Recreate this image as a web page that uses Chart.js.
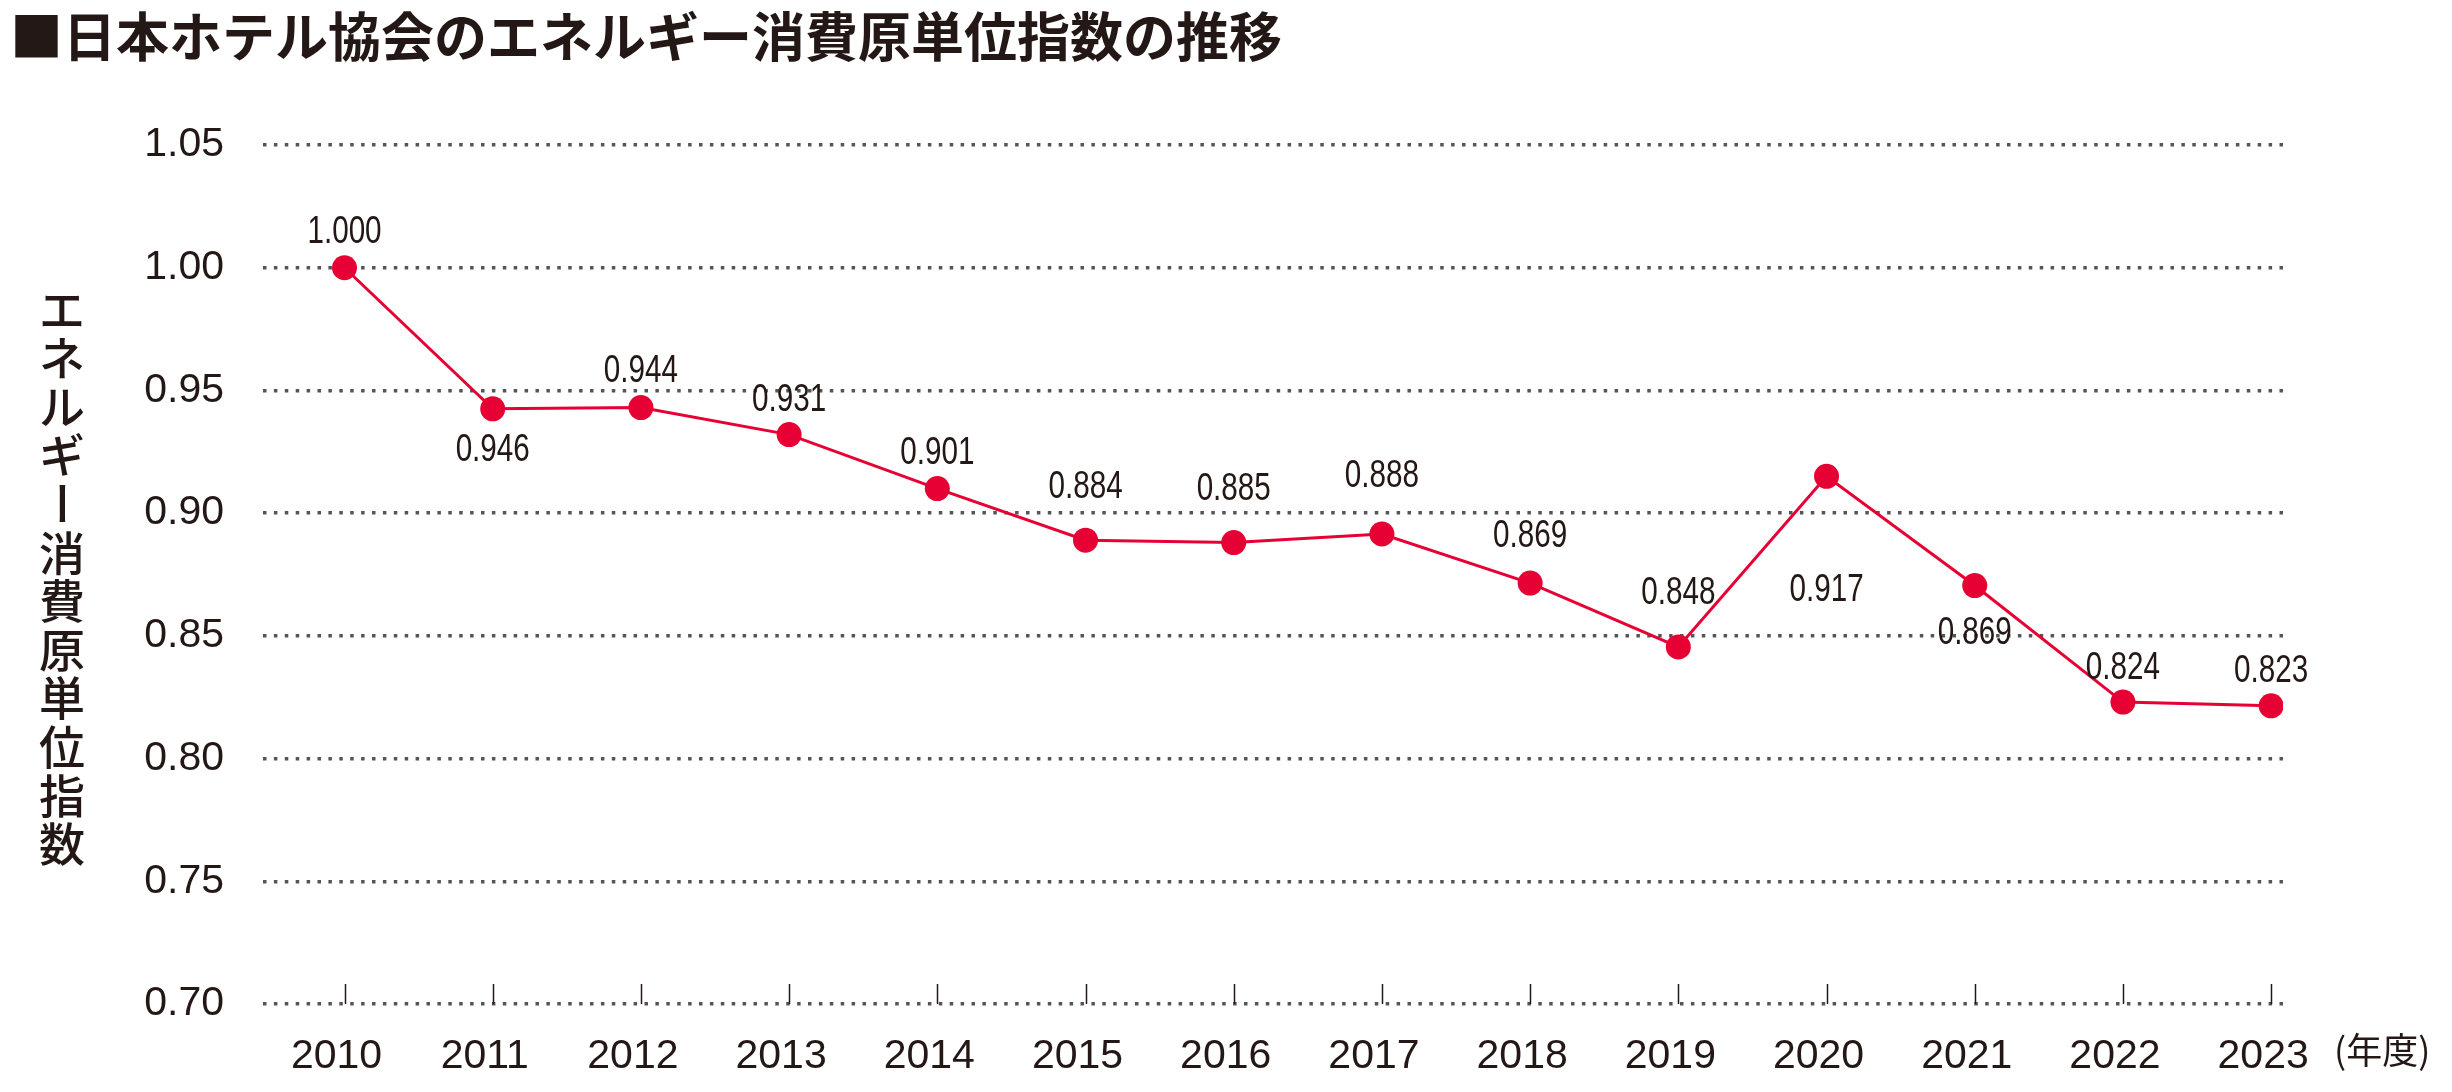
<!DOCTYPE html>
<html lang="ja">
<head>
<meta charset="utf-8">
<title>日本ホテル協会のエネルギー消費原単位指数の推移</title>
<script src="https://cdn.jsdelivr.net/npm/chart.js@4/dist/chart.umd.min.js"></script>
<style>
  html, body { margin: 0; padding: 0; background: #fff; }
  #wrap { width: 2452px; height: 1092px; position: relative; }
</style>
</head>
<body>
<div id="wrap"><canvas id="myChart"></canvas></div>
<script>
// data
const years = [2010, 2011, 2012, 2013, 2014, 2015, 2016, 2017, 2018, 2019, 2020, 2021, 2022, 2023];
const indexValues = [1.000, 0.9425, 0.943, 0.932, 0.910, 0.889, 0.888, 0.8915, 0.8715, 0.8455, 0.915, 0.8705, 0.823, 0.8215];
const valueLabels = ['1.000', '0.946', '0.944', '0.931', '0.901', '0.884', '0.885', '0.888', '0.869', '0.848', '0.917', '0.869', '0.824', '0.823'];
const yTicks = [0.70, 0.75, 0.80, 0.85, 0.90, 0.95, 1.00, 1.05];

const titleText = '■日本ホテル協会のエネルギー消費原単位指数の推移';
const yTitle = 'エネルギー消費原単位指数';
const unitText = '(年度)';

const ink = '#231815';
const red = '#e60033';
const cjk = '"Noto Sans CJK JP", "Noto Sans CJK SC", sans-serif';

// label placement: px above (-) / below (+) the point
const labelShift = [-35, 42, -36, -34, -35, -53, -53, -57, -47, -53, 114, 48, -34, -34];

const extras = {
  id: 'extras',
  beforeDatasetsDraw (chart) {
    const { ctx, chartArea, scales } = chart;
    // small tick marks on the base line
    ctx.save();
    ctx.strokeStyle = ink;
    ctx.lineWidth = 1.5;
    years.forEach(y => {
      const x = Math.round(scales.x.getPixelForValue(y)) + 0.5;
      ctx.beginPath();
      ctx.moveTo(x, chartArea.bottom);
      ctx.lineTo(x, chartArea.bottom - 20);
      ctx.stroke();
    });
    ctx.restore();
  },
  afterDatasetsDraw (chart) {
    const { ctx } = chart;
    const meta = chart.getDatasetMeta(0);
    ctx.save();
    ctx.fillStyle = ink;
    ctx.font = '38px "Liberation Sans", Arial, sans-serif';
    ctx.textAlign = 'center';
    ctx.textBaseline = 'middle';
    meta.data.forEach((pt, i) => {
      // condensed look: squeeze horizontally
      ctx.save();
      ctx.translate(pt.x, pt.y + labelShift[i]);
      ctx.scale(0.78, 1);
      ctx.fillText(valueLabels[i], 0, 0);
      ctx.restore();
    });
    ctx.restore();
  },
  afterDraw (chart) {
    const { ctx, chartArea } = chart;
    ctx.save();
    ctx.fillStyle = ink;
    // title
    ctx.font = 'bold 53px ' + cjk;
    ctx.textAlign = 'left';
    ctx.textBaseline = 'middle';
    ctx.fillText(titleText, 10, 37);
    // vertical y-axis title, one char per line
    ctx.font = '500 46px ' + cjk;
    ctx.textAlign = 'center';
    const chars = Array.from(yTitle);
    const mid = (chartArea.top + chartArea.bottom) / 2 + 2;
    chars.forEach((ch, i) => {
      ctx.save();
      ctx.translate(62, mid + (i - (chars.length - 1) / 2) * 48.6);
      if (ch === 'ー') ctx.rotate(Math.PI / 2);
      ctx.fillText(ch, 0, 0);
      ctx.restore();
    });
    // unit
    ctx.font = '36px ' + cjk;
    ctx.textAlign = 'left';
    ctx.fillText(unitText, 2334, 1050);
    ctx.restore();
  }
};

const data = {
  datasets: [{
    label: yTitle,
    data: years.map((y, i) => ({ x: y, y: indexValues[i] })),
    borderColor: red,
    backgroundColor: red,
    borderWidth: 3,
    pointRadius: 12.5,
    pointBackgroundColor: red,
    pointBorderWidth: 0,
    tension: 0
  }]
};

const config = {
  type: 'line',
  data: data,
  options: {
    responsive: true,
    maintainAspectRatio: false,
    animation: false,
    layout: { padding: { top: 145, right: 169, left: 0, bottom: 0 } },
    plugins: {
      legend: { display: false },
      tooltip: { enabled: false }
    },
    scales: {
      x: {
        type: 'linear',
        min: 2009.45,
        max: 2023.08,
        afterBuildTicks: scale => { scale.ticks = years.map(v => ({ value: v })); },
        afterFit: scale => { scale.height = 88; },
        grid: { display: false },
        border: { display: false },
        ticks: {
          autoSkip: false,
          maxRotation: 0,
          padding: 20,
          labelOffset: -8,
          color: ink,
          font: { family: '"Liberation Sans", Arial, sans-serif', size: 41 },
          callback: v => String(v)
        }
      },
      y: {
        min: 0.70,
        max: 1.05,
        afterBuildTicks: scale => { scale.ticks = yTicks.map(v => ({ value: v })); },
        afterFit: scale => { scale.width = 263; },
        grid: { color: '#555555', lineWidth: 3.5, drawTicks: false },
        border: { display: false, dash: [3.5, 7.4] },
        ticks: {
          padding: 39,
          color: ink,
          font: { family: '"Liberation Sans", Arial, sans-serif', size: 41 },
          callback: v => v.toFixed(2)
        }
      }
    }
  },
  plugins: [extras]
};

new Chart(document.getElementById('myChart').getContext('2d'), config);
</script>
</body>
</html>
